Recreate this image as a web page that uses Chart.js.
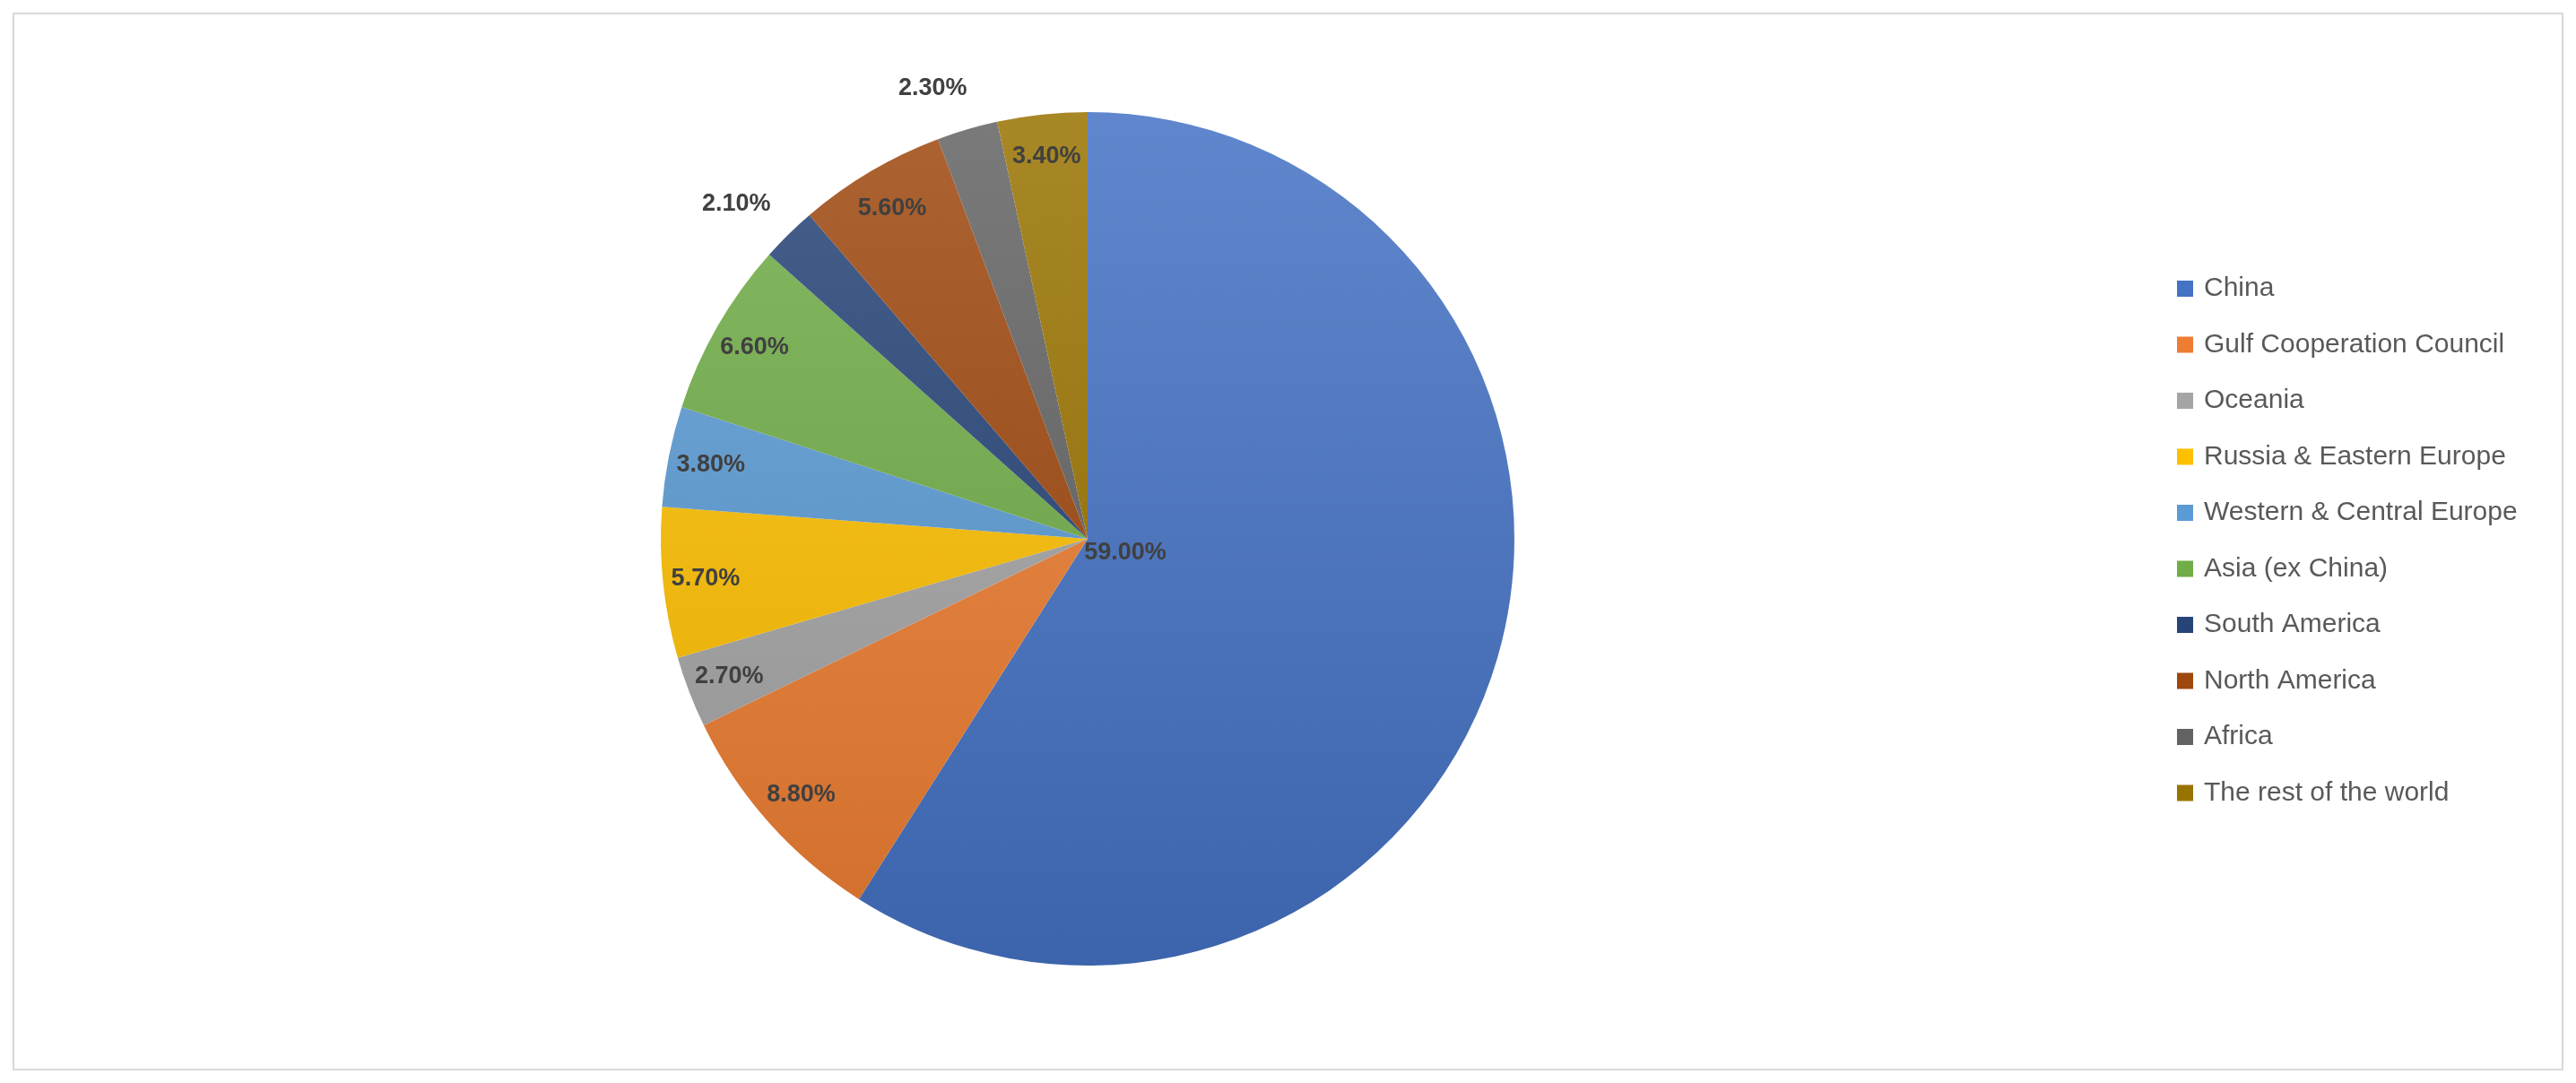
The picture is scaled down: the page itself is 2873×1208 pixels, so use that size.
<!DOCTYPE html>
<html>
<head>
<meta charset="utf-8">
<script src="https://cdn.jsdelivr.net/npm/chart.js@4/dist/chart.umd.min.js"></script>
<style>
  html, body { margin: 0; padding: 0; background: #fff; }
  #wrap { position: absolute; left: 0; top: 0; width: 2873px; height: 1208px; }
  #frame { position: absolute; left: 14px; top: 14px; right: 14px; bottom: 14px; border: 2px solid #d9d9d9; }
</style>
</head>
<body>
<div id="wrap">
  <div id="frame"></div>
  <canvas id="c" width="2873" height="1208"></canvas>
</div>
<script>
const regions = ["China", "Gulf Cooperation Council", "Oceania", "Russia & Eastern Europe",
    "Western & Central Europe", "Asia (ex China)", "South America", "North America",
    "Africa", "The rest of the world"];
const shares = [59.0, 8.8, 2.7, 5.7, 3.8, 6.6, 2.1, 5.6, 2.3, 3.4];
const colors = ["#4472C4", "#ED7D31", "#A5A5A5", "#FFC000", "#5B9BD5",
    "#70AD47", "#264478", "#9E480E", "#636363", "#997300"];
const outside = [false, false, false, false, false, false, true, false, true, false];

function shade(hex, amt) {
    const n = parseInt(hex.slice(1), 16);
    const r = (n >> 16) & 255, g = (n >> 8) & 255, b = n & 255;
    const f = c => Math.round(amt >= 0 ? c + (255 - c) * amt : c * (1 + amt));
    return `rgb(${f(r)},${f(g)},${f(b)})`;
}

const sliceLabels = {
    id: "sliceLabels",
    afterDatasetsDraw(chart) {
        const ctx = chart.ctx;
        const meta = chart.getDatasetMeta(0);
        ctx.save();
        ctx.font = "bold 27px 'Liberation Sans', Arial, sans-serif";
        ctx.fillStyle = "#404040";
        ctx.textAlign = "center";
        ctx.textBaseline = "middle";
        meta.data.forEach((arc, i) => {
            const mid = (arc.startAngle + arc.endAngle) / 2;
            let r = arc.outerRadius * (outside[i] ? 1.1 : 0.9);
            let x = arc.x + Math.cos(mid) * r;
            let y = arc.y + Math.sin(mid) * r;
            if (i === 0) { x = arc.x + 42; y = arc.y + 16; }
            if (outside[i]) x -= 25;
            ctx.fillText(shares[i].toFixed(2) + "%", x, y);
        });
        ctx.restore();
    }
};

const sideLegend = {
    id: "sideLegend",
    afterDraw(chart) {
        const ctx = chart.ctx;
        ctx.save();
        ctx.font = "30px 'Liberation Sans', Arial, sans-serif";
        ctx.textBaseline = "middle";
        regions.forEach((name, i) => {
            const y = 322 + i * 62.5;
            ctx.fillStyle = colors[i];
            ctx.fillRect(2428, y - 9, 18, 18);
            ctx.fillStyle = "#595959";
            ctx.fillText(name, 2458, y);
        });
        ctx.restore();
    }
};

new Chart(document.getElementById("c"), {
    type: "pie",
    data: {
        labels: regions,
        datasets: [{
            data: shares,
            backgroundColor: c => {
                const area = c.chart.chartArea;
                if (!area) return colors[c.dataIndex];
                const g = c.chart.ctx.createLinearGradient(0, area.top, 0, area.bottom);
                g.addColorStop(0, shade(colors[c.dataIndex], 0.15));
                g.addColorStop(1, shade(colors[c.dataIndex], -0.12));
                return g;
            },
            borderWidth: 0
        }]
    },
    options: {
        responsive: false,
        animation: false,
        layout: { padding: { left: 737, right: 1184, top: 125, bottom: 131 } },
        plugins: { legend: { display: false }, tooltip: { enabled: false } }
    },
    plugins: [sliceLabels, sideLegend]
});
</script>
</body>
</html>
